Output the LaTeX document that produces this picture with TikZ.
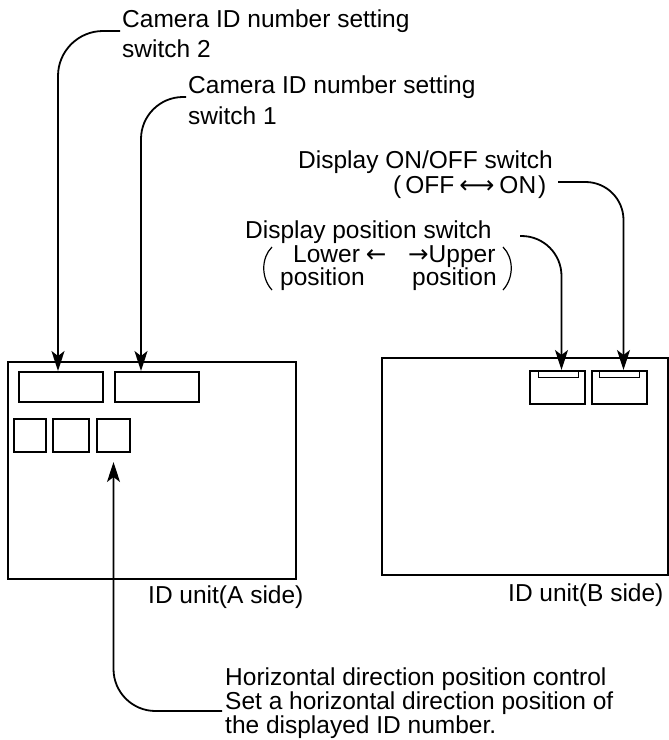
\documentclass[tikz,border=0pt]{standalone}
\usepackage{fontspec}
\setmainfont{Liberation Sans}
\newfontfamily\arrfont{DejaVu Sans}
\usetikzlibrary{arrows.meta,calc}
\begin{document}
\begin{tikzpicture}[x=1pt,y=-1pt,
  box/.style={draw,line width=2.2pt,rectangle,inner sep=0pt,anchor=north west},
  sw/.style={draw,line width=2pt,rectangle,inner sep=0pt,anchor=north west},
  conn/.style={line width=1.8pt,-{Stealth[length=20pt,width=13pt,inset=5pt]}},
  lbl/.style={inner sep=0pt,anchor=base west,font=\fontsize{24.5}{24.5}\selectfont,align=left},
  paren/.style={line width=1.2pt}]
\useasboundingbox (0,0) rectangle (669,740);
% ID unit A
\node[box,minimum width=288pt,minimum height=217pt] (A) at (7,361) {};
\node[sw,minimum width=84pt,minimum height=30pt] (sw2) at (18,371) {};
\node[sw,minimum width=84pt,minimum height=30pt] (sw1) at (114,371) {};
\node[sw,minimum width=32pt,minimum height=33pt] (sq1) at (13,418) {};
\node[sw,minimum width=36pt,minimum height=33pt] (sq2) at (52,418) {};
\node[sw,minimum width=33pt,minimum height=33pt] (sq3) at (96,418) {};
\node[lbl] (la) at (148,603) {ID unit(A side)};
% ID unit B
\node[box,minimum width=286pt,minimum height=217pt] (B) at (381,357) {};
\node[sw,minimum width=55pt,minimum height=33pt] (bs1) at (529,370) {};
\node[sw,minimum width=55pt,minimum height=33pt] (bs2) at (591,370) {};
\node[sw,line width=1.4pt,minimum width=40pt,minimum height=7pt] (sl1) at (538,370) {};
\node[sw,line width=1.4pt,minimum width=40pt,minimum height=7pt] (sl2) at (599,370) {};
\node[lbl] (lb) at (508,601) {ID unit(B side)};
% labels
\node[lbl] (t2a) at (122,27) {Camera ID number setting};
\node[lbl] (t2b) at (122,57) {switch 2};
\node[lbl] (t1a) at (188,93) {Camera ID number setting};
\node[lbl] (t1b) at (188,124) {switch 1};
\node[lbl] (ona) at (298,168) {Display ON/OFF switch};
\node[lbl] (onb) at (393,193) {(\hspace{4pt}OFF\hspace{5pt}{\arrfont ⟷}\hspace{5pt}ON\hspace{2pt})};
\node[lbl] (psa) at (245,238) {Display position switch};
\node[lbl] (psb) at (293,262) {Lower\hspace{6pt}{\arrfont ←}};
\node[lbl] (psc) at (408,262) {{\arrfont →}Upper};
\node[lbl] (psd) at (280,285) {position};
\node[lbl] (pse) at (412,285) {position};
\draw[paren] (272,247) .. controls (261,258) and (261,278) .. (272,290);
\draw[paren] (503,247) .. controls (514,258) and (514,278) .. (503,290);
\node[lbl] (ha) at (225,685) {Horizontal direction position control};
\node[lbl] (hb) at (225,709) {Set a horizontal direction position of};
\node[lbl] (hc) at (225,733) {the displayed ID number.};
% connectors
\coordinate (c2s) at (120,31);
\coordinate (c1s) at (186,97);
\coordinate (ons) at (558,182);
\coordinate (pss) at (520,236);
\coordinate (hs) at (222,711);
\draw[conn,rounded corners=45pt] (c2s) -| ($(sw2.north west)+(40,0)$);
\draw[conn,rounded corners=42pt] (c1s) -| ($(sw1.north west)+(27,0)$);
\draw[conn,rounded corners=38pt] (ons) -| ($(bs2.north)+(4,0)$);
\draw[conn,rounded corners=40pt] (pss) -| ($(bs1.north)+(4,0)$);
\draw[conn,rounded corners=42pt,shorten >=9pt] (hs) -| (sq3.south);
\end{tikzpicture}
\end{document}
